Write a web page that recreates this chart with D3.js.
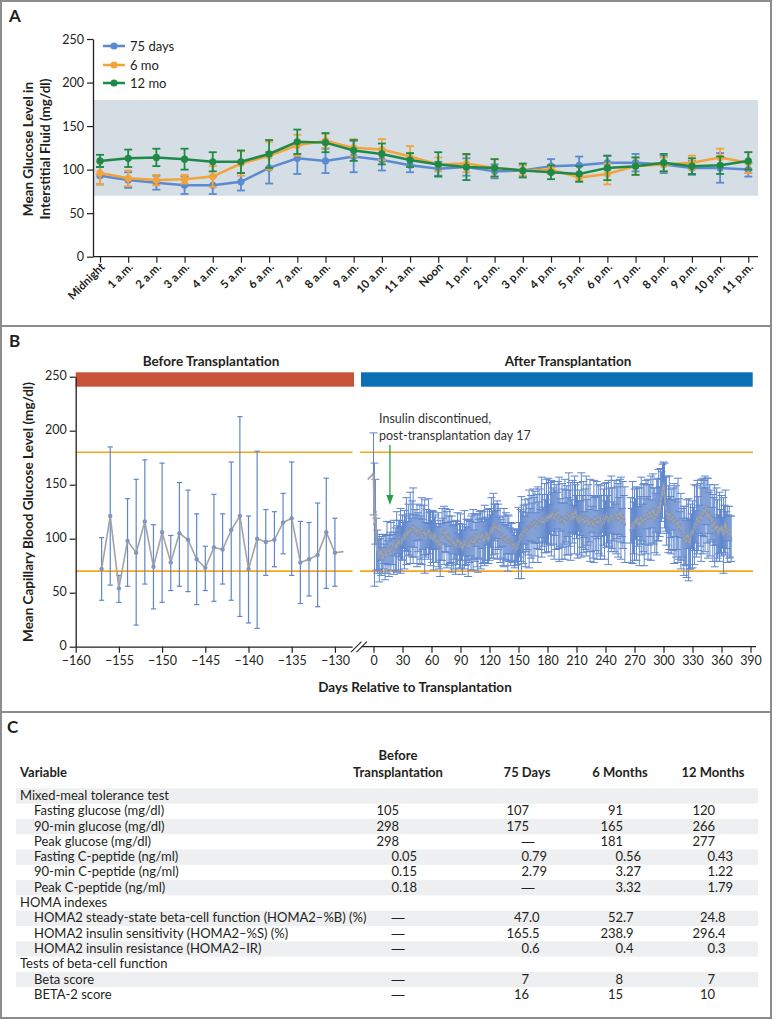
<!DOCTYPE html>
<html><head><meta charset="utf-8">
<script src="https://cdn.jsdelivr.net/npm/d3@7"></script>
<style>
body{margin:0;background:#fff;}
svg{display:block;font-family:Lato,"Open Sans",sans-serif;}
</style></head><body>
<svg id="chart" width="776" height="1020"></svg>
<script>
// ---------------- Panel A data ----------------
const hourLabels = ["Midnight","1 a.m.","2 a.m.","3 a.m.","4 a.m.","5 a.m.","6 a.m.","7 a.m.","8 a.m.","9 a.m.","10 a.m.","11 a.m.","Noon","1 p.m.","2 p.m.","3 p.m.","4 p.m.","5 p.m.","6 p.m.","7 p.m.","8 p.m.","9 p.m.","10 p.m.","11 p.m."];
const seriesNames = ["75 days","6 mo","12 mo"];
const mean75 = [93,88,85,82,82,86,102,113,110,115,111,105,101,103,98,99,104,105,108,108,106,102,102,100];
const err75  = [10,9,8,10,10,10,18,18,14,18,12,8,8,10,8,6,8,10,8,10,10,8,17,8];
const mean6  = [96,90,88,89,92,107,116,128,133,125,123,115,106,107,102,99,100,91,95,104,106,108,114,108];
const err6   = [13,9,6,5,12,14,16,12,8,10,12,12,8,10,10,6,5,4,12,10,8,8,10,12];
const mean12 = [110,113,114,112,109,109,118,132,131,122,118,111,106,103,102,99,97,95,102,104,108,104,105,110];
const err12  = [7,10,10,12,11,13,16,14,11,12,12,8,14,15,10,8,8,9,14,10,10,9,10,10];
const yTicksA = [0,50,100,150,200,250];
const bandA = [70,180];

// ---------------- Panel B data ----------------
const yTicksB = [0,50,100,150,200,250];
const beforeTicks = [-160,-155,-150,-145,-140,-135,-130];
const afterTicks = [0,30,60,90,120,150,180,210,240,270,300,330,360,390];
const targetRange = [70,180];
const beforeDays = [-157,-156,-155,-154,-153,-152,-151,-150,-149,-148,-147,-146,-145,-144,-143,-142,-141,-140,-139,-138,-137,-136,-135,-134,-133,-132,-131,-130,-129];
const beforeMean = [72,121,54,98,87,116,74,106,78,105,99,81,73,92,90,108,121,72,100,97,99,115,119,78,81,85,106,87,88];
const beforeLow  = [43,57,41,56,20,58,35,41,52,56,51,39,52,42,58,43,28,22,17,66,74,86,66,40,47,37,54,56,null];
const beforeHigh = [101,185,66,137,155,173,113,170,103,152,145,123,93,141,123,171,213,121,181,127,125,142,171,116,115,133,156,119,null];
// after transplantation: one value per day, starting at day 0 (null = no measurement)
const afterLeadDay = [-6];
const afterLeadMean = [155];
const afterMean = [
160,113,125,95,88,
85,82,90,84,80,88,
86,83,90,92,87,84,91,93,88,90,
92,95,90,97,99,94,100,98,96,101,
103,99,105,107,102,108,104,110,106,109,
112,107,105,110,103,106,109,104,101,107,
104,108,102,99,106,103,109,105,100,104,
102,98,105,100,96,101,99,93,91,97,
104,107,103,108,101,99,104,98,102,97,
95,99,94,97,92,96,100,95,93,98,
94,90,96,99,93,97,95,91,98,100,
96,102,99,95,101,104,98,96,100,103,
99,105,101,97,103,100,106,102,98,104,
107,110,105,112,115,109,113,108,111,106,
103,100,104,98,101,97,102,99,96,100,
98,95,97,93,96,91,89,94,92,96,
99,103,101,106,104,108,105,110,107,111,
109,113,111,115,112,117,114,110,116,113,
115,118,114,120,117,113,119,116,121,118,
122,118,123,119,125,121,117,124,120,126,
122,118,115,120,116,119,114,118,121,117,
120,123,119,116,121,125,118,122,127,120,
117,121,115,119,122,116,120,113,118,121,
115,119,112,117,114,118,111,116,120,114,
117,113,118,121,115,112,117,120,116,119,
122,118,115,120,117,123,119,116,121,118,
120,124,117,121,126,119,115,122,118,113,
null,null,null,null,null,
108,112,115,110,113,
118,114,120,116,111,117,121,115,119,113,
116,120,124,118,122,126,119,123,128,121,
117,124,120,127,131,125,135,139,144,151,
140,132,126,121,118,124,120,116,122,118,
114,119,116,112,117,109,113,107,104,101,
98,103,96,100,105,99,95,102,107,104,
109,113,111,116,120,114,118,122,117,125,
121,128,123,130,126,119,124,117,121,114,
110,116,112,107,113,109,104,111,107,112,
106,103,109,115,108,104,110,106,102,100];
const afterErr = [
38,57,30,24,20,14,22,10,18,12,
16,9,21,13,24,11,19,15,22,12,
14,25,11,20,28,13,23,17,30,15,
21,12,27,16,31,14,24,19,33,13,
26,35,15,22,12,29,18,10,27,20,
31,14,23,34,16,21,11,28,19,25,
13,24,27,15,22,18,10,25,21,26,
17,24,12,27,20,14,26,11,23,25,
19,26,13,22,16,25,20,24,10,21,
25,14,23,12,27,18,21,15,26,20,
16,25,21,28,13,22,11,24,27,18,
22,27,14,24,19,28,20,12,25,21,
24,15,28,20,30,17,23,13,27,21,
14,25,18,11,23,27,16,22,13,26,
21,12,20,17,15,10,18,14,15,16,
33,16,24,38,19,27,13,31,22,17,
26,36,15,29,18,34,21,30,14,25,
35,19,28,13,37,24,16,32,20,34,
23,34,14,29,35,18,26,36,21,30,
17,31,39,22,13,35,27,19,37,24,
32,18,38,26,36,15,29,13,36,23,
20,35,14,30,16,39,24,33,12,28,
37,21,31,15,38,26,12,29,38,18,
25,36,13,32,19,34,28,11,26,35,
16,30,22,39,27,12,35,28,18,33,
14,34,24,34,17,29,38,13,31,22,
35,null,null,null,null,null,30,16,38,24,
33,19,34,27,14,36,22,36,17,31,
38,21,34,15,37,28,24,39,13,32,
26,30,18,35,29,33,23,30,23,25,
20,30,25,32,16,31,34,19,30,14,
29,37,17,33,22,39,28,12,35,24,
18,32,27,21,36,14,38,23,30,16,
31,20,37,15,33,34,25,13,29,38,
22,35,26,35,17,30,37,19,33,24,
15,31,22,38,13,34,27,18,32,20,
28,14,35,22,30,17,26,12,24,19,21];
const insulinStopDay = 17;

// ---------------- Panel C data ----------------
const tableHeaders = ["Variable","Before Transplantation","75 Days","6 Months","12 Months"];
const rowLabels = ["Mixed-meal tolerance test","Fasting glucose (mg/dl)","90-min glucose (mg/dl)","Peak glucose (mg/dl)","Fasting C-peptide (ng/ml)","90-min C-peptide (ng/ml)","Peak C-peptide (ng/ml)","HOMA indexes","HOMA2 steady-state beta-cell function (HOMA2\u2013%B) (%)","HOMA2 insulin sensitivity (HOMA2\u2013%S) (%)","HOMA2 insulin resistance (HOMA2\u2013IR)","Tests of beta-cell function","Beta score","BETA-2 score"];
const rowIndent = [0,1,1,1,1,1,1,0,1,1,1,0,1,1];
const colBefore = ["","105","298","298","0.05","0.15","0.18","","\u2014","\u2014","\u2014","","\u2014","\u2014"];
const col75d = ["","107","175","\u2014","0.79","2.79","\u2014","","47.0","165.5","0.6","","7","16"];
const col6m = ["","91","165","181","0.56","3.27","3.32","","52.7","238.9","0.4","","8","15"];
const col12m = ["","120","266","277","0.43","1.22","1.79","","24.8","296.4","0.3","","7","10"];

// ================= drawing =================
const svg = d3.select("#chart");
const txt = "#231f20";
const frame = "#8c8c8c";
svg.append("rect").attr("x",1).attr("y",1).attr("width",770).attr("height",1017)
  .attr("fill","none").attr("stroke",frame).attr("stroke-width",2);
svg.append("line").attr("x1",1).attr("x2",771).attr("y1",326).attr("y2",326).attr("stroke",frame).attr("stroke-width",2);
svg.append("line").attr("x1",1).attr("x2",771).attr("y1",712).attr("y2",712).attr("stroke",frame).attr("stroke-width",2);

function panelLabel(t,x,y){
  svg.append("text").attr("x",x).attr("y",y).text(t)
    .attr("font-size",17).attr("font-weight",700).attr("fill",txt);
}
panelLabel("A",9,22); panelLabel("B",9,347); panelLabel("C",7,733);

function styleAxis(g, fs){
  g.selectAll("path.domain").attr("stroke",txt).attr("stroke-width",1.3);
  g.selectAll(".tick line").attr("stroke",txt).attr("stroke-width",1.2);
  g.selectAll(".tick text").attr("fill",txt).attr("font-size",fs).attr("font-family","Lato,sans-serif");
}

// ---------- Panel A ----------
const xA = d3.scalePoint().domain(hourLabels).range([100,748.3]);
const yA = d3.scaleLinear().domain([0,250]).range([256.7,39]);
const axLeftA = 93, axRightA = 758;
const gA = svg.append("g");
gA.append("rect").attr("x",axLeftA).attr("width",axRightA-axLeftA)
  .attr("y",yA(bandA[1])).attr("height",yA(bandA[0])-yA(bandA[1])).attr("fill","#d4dee4");
const yAxA = gA.append("g").attr("transform",`translate(${axLeftA},0)`)
  .call(d3.axisLeft(yA).tickValues(yTicksA).tickSize(6).tickSizeOuter(0).tickPadding(3));
styleAxis(yAxA,12.5);
const xAxA = gA.append("g").attr("transform",`translate(0,${yA(0)})`)
  .call(d3.axisBottom(xA).tickSize(6).tickSizeOuter(0));
xAxA.select(".domain").remove();
styleAxis(xAxA,11.5);
xAxA.selectAll(".tick text").attr("font-weight",700).attr("text-anchor","end")
  .attr("x",0).attr("y",0).attr("dy",0).attr("transform","translate(5,11) rotate(-45)");
gA.append("line").attr("x1",axLeftA).attr("x2",axRightA).attr("y1",yA(0)).attr("y2",yA(0))
  .attr("stroke",txt).attr("stroke-width",1.3);
// y title
const yTitleA = gA.append("text").attr("transform","translate(28,149) rotate(-90)")
  .attr("text-anchor","middle").attr("font-size",13.5).attr("font-weight",700).attr("fill",txt);
yTitleA.append("tspan").attr("x",0).attr("y",0).attr("dy","0.35em").text("Mean Glucose Level in");
yTitleA.append("tspan").attr("x",0).attr("y",17).attr("dy","0.35em").text("Interstitial Fluid (mg/dl)");

const colorsA = ["#5b8ad2","#f2a33a","#1f8a48"];
const seriesA = [[mean75,err75],[mean6,err6],[mean12,err12]];
seriesA.forEach(([m,e],si)=>{
  const c = colorsA[si];
  const g = gA.append("g");
  const pts = hourLabels.map((h,i)=>({h, v:m[i], e:e[i]}));
  const eb = g.selectAll("g.eb").data(pts).join("g");
  eb.append("line").attr("x1",d=>xA(d.h)).attr("x2",d=>xA(d.h))
    .attr("y1",d=>yA(d.v-d.e)).attr("y2",d=>yA(d.v+d.e)).attr("stroke",c).attr("stroke-width",1.8);
  [-1,1].forEach(s=>{
    eb.append("line").attr("x1",d=>xA(d.h)-4).attr("x2",d=>xA(d.h)+4)
      .attr("y1",d=>yA(d.v+s*d.e)).attr("y2",d=>yA(d.v+s*d.e)).attr("stroke",c).attr("stroke-width",1.8);
  });
  g.append("path").datum(pts).attr("fill","none").attr("stroke",c).attr("stroke-width",2.5)
    .attr("d",d3.line().x(d=>xA(d.h)).y(d=>yA(d.v)));
  g.selectAll("circle").data(pts).join("circle").attr("cx",d=>xA(d.h)).attr("cy",d=>yA(d.v))
    .attr("r",3.6).attr("fill",c);
});
// legend
const legYs = [46,65,83];
seriesNames.forEach((n,i)=>{
  const g = gA.append("g");
  g.append("line").attr("x1",103).attr("x2",125).attr("y1",legYs[i]).attr("y2",legYs[i])
    .attr("stroke",colorsA[i]).attr("stroke-width",2.5);
  g.append("circle").attr("cx",114).attr("cy",legYs[i]).attr("r",3.6).attr("fill",colorsA[i]);
  g.append("text").attr("x",130).attr("y",legYs[i]).attr("dy","0.35em").text(n)
    .attr("font-size",13).attr("fill",txt);
});

// ---------- Panel B ----------
const yB = d3.scaleLinear().domain([0,250]).range([646.7,376.7]);
const xL = d3.scaleLinear().domain([-160,-128]).range([75.7,352.2]);
const xR = d3.scaleLinear().domain([0,390]).range([373.5,750.5]);
const gB = svg.append("g");
const orange = "#f7a61c";
// period bars
gB.append("rect").attr("x",xL.range()[0]).attr("width",354-xL.range()[0]).attr("y",372.3).attr("height",14.4).attr("fill","#c6533a");
gB.append("rect").attr("x",361).attr("width",752.7-361).attr("y",372.3).attr("height",14.4).attr("fill","#0a6fb4");
gB.append("text").attr("x",211).attr("y",366).attr("text-anchor","middle").attr("font-size",13.5).attr("font-weight",700).attr("fill",txt).text("Before Transplantation");
gB.append("text").attr("x",568).attr("y",366).attr("text-anchor","middle").attr("font-size",13.5).attr("font-weight",700).attr("fill",txt).text("After Transplantation");
// target lines
targetRange.forEach(v=>{
  gB.append("line").attr("x1",xL.range()[0]).attr("x2",352.5).attr("y1",yB(v)).attr("y2",yB(v)).attr("stroke",orange).attr("stroke-width",1.6);
  gB.append("line").attr("x1",360).attr("x2",753).attr("y1",yB(v)).attr("y2",yB(v)).attr("stroke",orange).attr("stroke-width",1.6);
});
// axes
const yAxB = gB.append("g").attr("transform",`translate(${xL.range()[0]},0)`)
  .call(d3.axisLeft(yB).tickValues(yTicksB).tickSize(6).tickSizeOuter(0).tickPadding(3));
styleAxis(yAxB,12.5);
yAxB.selectAll(".tick text").attr("dy","0.25em");
const fmtMinus = d=> d<0 ? "\u2212"+Math.abs(d) : String(d);
const xAxL = gB.append("g").attr("transform",`translate(0,${yB(0)})`)
  .call(d3.axisBottom(xL).tickValues(beforeTicks).tickFormat(fmtMinus).tickSize(6).tickSizeOuter(0).tickPadding(3.5));
styleAxis(xAxL,12.5);
const xAxR = gB.append("g").attr("transform",`translate(0,${yB(0)})`)
  .call(d3.axisBottom(xR).tickValues(afterTicks).tickSize(6).tickSizeOuter(0).tickPadding(3.5));
xAxR.select(".domain").remove();
styleAxis(xAxR,12.5);
gB.append("line").attr("x1",361.7).attr("x2",756).attr("y1",yB(0)).attr("y2",yB(0)).attr("stroke",txt).attr("stroke-width",1.3);
// break marks
[[351,361.5],[356.5,367]].forEach(([a,b])=>{
  gB.append("line").attr("x1",a).attr("y1",yB(0)+5.5).attr("x2",b).attr("y2",yB(0)-5)
    .attr("stroke",txt).attr("stroke-width",1.1);
});
// titles
gB.append("text").attr("transform","translate(28,512) rotate(-90)").attr("text-anchor","middle").attr("dy","0.35em")
  .attr("font-size",13.5).attr("font-weight",700).attr("fill",txt).text("Mean Capillary Blood Glucose Level (mg/dl)");
gB.append("text").attr("x",415).attr("y",692).attr("text-anchor","middle")
  .attr("font-size",13.5).attr("font-weight",700).attr("fill",txt).text("Days Relative to Transplantation");

const ebColor = "#5f86cc";
const lineGray = "#a3a3a3";
const dotColor = "#8096bf";
// before
const bPts = beforeDays.map((d,i)=>({d, v:beforeMean[i], lo:beforeLow[i], hi:beforeHigh[i]}));
const gBefore = gB.append("g");
const bEb = bPts.filter(p=>p.lo!=null);
gBefore.selectAll("line.v").data(bEb).join("line").attr("x1",p=>xL(p.d)).attr("x2",p=>xL(p.d))
  .attr("y1",p=>yB(p.lo)).attr("y2",p=>yB(p.hi)).attr("stroke",ebColor).attr("stroke-width",1.2);
["lo","hi"].forEach(k=>{
  gBefore.selectAll("line."+k).data(bEb).join("line").attr("class",k).attr("x1",p=>xL(p.d)-2.6).attr("x2",p=>xL(p.d)+2.6)
    .attr("y1",p=>yB(p[k])).attr("y2",p=>yB(p[k])).attr("stroke",ebColor).attr("stroke-width",1.2);
});
gBefore.append("path").datum(bPts).attr("fill","none").attr("stroke",lineGray).attr("stroke-width",1.6)
  .attr("d",d3.line().x(p=>xL(p.d)).y(p=>yB(p.v)));
gBefore.selectAll("circle").data(bPts.slice(0,-1)).join("circle").attr("cx",p=>xL(p.d)).attr("cy",p=>yB(p.v)).attr("r",2.2).attr("fill",dotColor);

// after
const aPts = afterMean.map((v,i)=>({d:i, v, e:afterErr[i]}));
const aEb = aPts.filter(p=>p.v!=null && p.e!=null);
const gAfter = gB.append("g");
gAfter.selectAll("line.v").data(aEb).join("line").attr("x1",p=>xR(p.d)).attr("x2",p=>xR(p.d))
  .attr("y1",p=>yB(p.v-p.e)).attr("y2",p=>yB(p.v+p.e)).attr("stroke",ebColor).attr("stroke-width",1);
[-1,1].forEach(s=>{
  gAfter.selectAll("line.c"+(s+1)).data(aEb).join("line").attr("class","c"+(s+1))
    .attr("x1",p=>xR(p.d)-4).attr("x2",p=>xR(p.d)+4)
    .attr("y1",p=>yB(p.v+s*p.e)).attr("y2",p=>yB(p.v+s*p.e)).attr("stroke",ebColor).attr("stroke-width",1);
});
const leadPts = afterLeadDay.map((d,i)=>({d, v:afterLeadMean[i]}));
gAfter.append("path").datum(leadPts.concat(aPts)).attr("fill","none").attr("stroke",lineGray).attr("stroke-width",1.8)
  .attr("d",d3.line().defined(p=>p.v!=null).x(p=>xR(p.d)).y(p=>yB(p.v)));
gAfter.selectAll("circle").data(aPts.filter(p=>p.v!=null)).join("circle").attr("cx",p=>xR(p.d)).attr("cy",p=>yB(p.v)).attr("r",1.3).attr("fill",dotColor);

// annotation
gB.append("text").attr("x",379).attr("y",423).attr("font-size",12.5).attr("fill","#333").text("Insulin discontinued,");
gB.append("text").attr("x",379).attr("y",440).attr("font-size",12.5).attr("fill","#333").text("post-transplantation day 17");
const green = "#25a046";
gB.append("line").attr("x1",xR(insulinStopDay)).attr("x2",xR(insulinStopDay)).attr("y1",445).attr("y2",498)
  .attr("stroke",green).attr("stroke-width",1.3);
gB.append("path").attr("d",`M${xR(insulinStopDay)-3.5},495 L${xR(insulinStopDay)+3.5},495 L${xR(insulinStopDay)},505 Z`).attr("fill",green);

// ---------- Panel C ----------
const gC = svg.append("g");
const rowTop0 = 788.3, rowH = 15.3, tblL = 16, tblR = 758;
rowLabels.forEach((r,i)=>{
  if(i%2===0) gC.append("rect").attr("x",tblL).attr("width",tblR-tblL).attr("y",rowTop0+i*rowH).attr("height",rowH).attr("fill","#eeeff1");
});
const hdrFs = 13, cellFs = 13;
gC.append("text").attr("x",20).attr("y",776.7).attr("font-size",hdrFs).attr("font-weight",700).attr("fill",txt).text(tableHeaders[0]);
const hb = gC.append("text").attr("x",398).attr("text-anchor","middle").attr("font-size",hdrFs).attr("font-weight",700).attr("fill",txt);
hb.append("tspan").attr("x",398).attr("y",760).text("Before");
hb.append("tspan").attr("x",398).attr("y",776.7).text("Transplantation");
[[tableHeaders[2],527],[tableHeaders[3],620],[tableHeaders[4],713]].forEach(([t,x])=>{
  gC.append("text").attr("x",x).attr("y",776.7).attr("text-anchor","middle").attr("font-size",hdrFs).attr("font-weight",700).attr("fill",txt).text(t);
});
rowLabels.forEach((r,i)=>{
  gC.append("text").attr("x",rowIndent[i]?34:20).attr("y",rowTop0+i*rowH+11.6)
    .attr("font-size",cellFs).attr("fill",txt).text(r);
});
const cols = [[colBefore,399],[col75d,529],[col6m,623],[col12m,715]];
cols.forEach(([vals,decX])=>{
  vals.forEach((v,i)=>{
    if(!v) return;
    const y = rowTop0+i*rowH+11.6;
    if(v==="\u2014"){
      gC.append("text").attr("x",decX-1).attr("y",y).attr("text-anchor","middle").attr("font-size",cellFs)
        .attr("font-family","'Liberation Sans',sans-serif").attr("fill",txt).text(v);
      return;
    }
    const t = gC.append("text").attr("y",y).attr("font-size",cellFs).attr("fill",txt).text(v);
    const intPart = v.split(".")[0];
    const probe = gC.append("text").attr("font-size",cellFs).text(intPart);
    const w = probe.node().getComputedTextLength();
    probe.remove();
    t.attr("x",decX-w);
  });
});
</script>
</body></html>
